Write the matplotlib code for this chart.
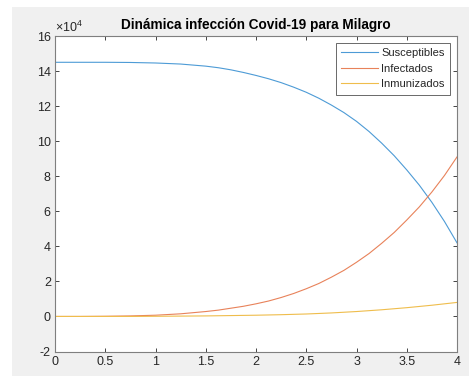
import numpy as np
import matplotlib
matplotlib.use('Agg')
import matplotlib.pyplot as plt
from matplotlib.patches import Rectangle

plt.rcParams['font.family'] = ['Liberation Sans', 'DejaVu Sans']
plt.rcParams['mathtext.fontset'] = 'custom'
plt.rcParams['mathtext.rm'] = 'Liberation Sans'
plt.rcParams['axes.unicode_minus'] = False

# tiempo (dias) y poblaciones (x 1e4)
t = [0, 0.25, 0.5, 0.75, 1, 1.25,
     1.5, 1.625, 1.75, 1.875, 2, 2.125, 2.25, 2.375, 2.5, 2.625, 2.75,
     2.875, 3, 3.125, 3.25, 3.375, 3.5, 3.625, 3.75, 3.875, 4]
susceptibles = [14.5, 14.5, 14.5, 14.49, 14.46, 14.4,
                14.28, 14.19, 14.07, 13.92, 13.75, 13.56, 13.34, 13.08, 12.79,
                12.45, 12.06, 11.63, 11.13, 10.55, 9.89, 9.17, 8.36, 7.49, 6.51,
                5.42, 4.2]
infectados = [0.0, 0.0, 0.01, 0.03, 0.07, 0.15,
              0.28, 0.36, 0.47, 0.58, 0.72, 0.88, 1.08, 1.31, 1.58, 1.88, 2.24,
              2.63, 3.09, 3.59, 4.17, 4.79, 5.5, 6.25, 7.1, 8.04, 9.1]
inmunizados = [0.0, 0.0, 0.0, 0.0, 0.01, 0.02,
               0.03, 0.04, 0.05, 0.06, 0.07, 0.085, 0.1, 0.12, 0.14, 0.17, 0.2,
               0.24, 0.28, 0.33, 0.38, 0.44, 0.5, 0.57, 0.64, 0.72, 0.8]

xticks = [0, 0.5, 1, 1.5, 2, 2.5, 3, 3.5, 4]
xlabels = ['0', '0.5', '1', '1.5', '2', '2.5', '3', '3.5', '4']
yticks = [-2, 0, 2, 4, 6, 8, 10, 12, 14, 16]

fig = plt.figure(figsize=(4.69, 3.76), dpi=100, facecolor='white')
# fondo gris de la ventana
fig.patches.append(Rectangle((12 / 469, 0), 1, (376 - 7) / 376,
                             transform=fig.transFigure, facecolor='#f0f0f0',
                             edgecolor='none', zorder=-10))

ax = fig.add_axes([55 / 469, 24.5 / 376, 402 / 469, 315.5 / 376])
ax.set_facecolor('white')

ax.plot(t, susceptibles, color='#4d9bd6', lw=0.8, label='Susceptibles')
ax.plot(t, infectados, color='#e8825a', lw=0.8, label='Infectados')
ax.plot(t, inmunizados, color='#efbd4c', lw=0.8, label='Inmunizados')

ax.set_xlim(0, 4)
ax.set_ylim(-2, 16)
ax.set_xticks(xticks)
ax.set_xticklabels(xlabels)
ax.set_yticks(yticks)
ax.tick_params(direction='in', length=3, width=0.6, color='#262626',
               labelsize=9, labelcolor='#262626', top=True, right=True, pad=3)
for s in ax.spines.values():
    s.set_color('#7f7f7f')
    s.set_linewidth(0.8)

ax.text(0.0, 1.002, r'$\times10^{4}$', transform=ax.transAxes,
        fontsize=9, color='#262626', ha='left', va='bottom')

ax.set_title('Dinámica infección Covid-19 para Milagro', fontsize=9.8,
             fontweight='bold', color='black', pad=5)

leg = ax.legend(loc='upper right', fontsize=8, frameon=True, fancybox=False,
                handlelength=3.3, borderaxespad=0.6, labelspacing=0.5,
                handletextpad=0.3, borderpad=0.5)
leg.get_frame().set_edgecolor('#262626')
leg.get_frame().set_linewidth(0.6)
for txt in leg.get_texts():
    txt.set_color('#262626')

fig.savefig('out.png', dpi=100, facecolor=fig.get_facecolor())
